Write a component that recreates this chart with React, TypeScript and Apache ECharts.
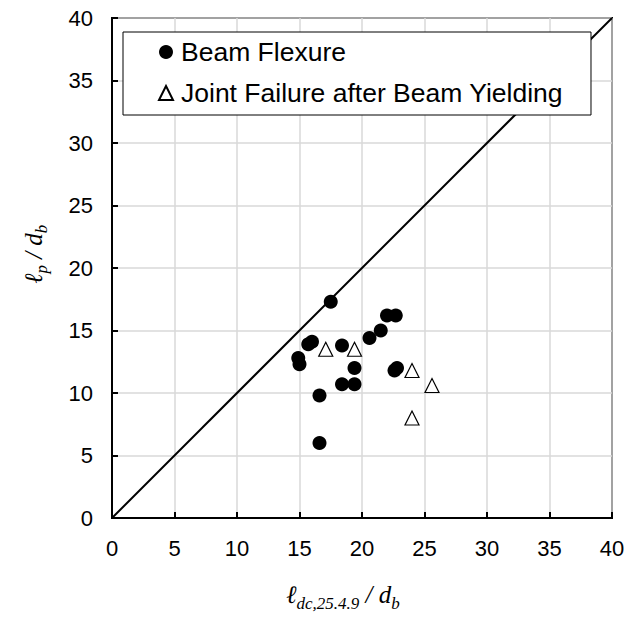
import React, { useEffect, useRef } from "react";
import * as echarts from "echarts";

const beamFlexure: [number, number][] = [
  [17.5, 17.3], [22.0, 16.2], [22.7, 16.2], [21.5, 15.0], [20.6, 14.4],
  [16.0, 14.1], [15.7, 13.9], [18.4, 13.8], [14.9, 12.8], [15.0, 12.3],
  [19.4, 12.0], [22.8, 12.0], [22.6, 11.8], [18.4, 10.7], [19.4, 10.7],
  [16.6, 9.8], [16.6, 6.0],
];
const jointFailure: [number, number][] = [
  [17.1, 13.5], [19.4, 13.5], [24.0, 11.8], [25.6, 10.6], [24.0, 8.0],
];
const equalityLine: [number, number][] = [[0, 0], [40, 40]];
const seriesNames = ["Beam Flexure", "Joint Failure after Beam Yielding"];

export default function App() {
  const ref = useRef<HTMLDivElement>(null);
  useEffect(() => {
    if (!ref.current) return;
    const chart = echarts.init(ref.current, null, { renderer: "svg" });
    const serif = "'Liberation Serif', 'DejaVu Serif', serif";
    const sans = "'Liberation Sans', Arial, sans-serif";
    const titleRich = {
      l: { fontSize: 25, fontFamily: serif, fontStyle: "italic", color: "#222", lineHeight: 34, verticalAlign: "middle" },
      s: { fontSize: 17, fontFamily: serif, fontStyle: "italic", color: "#222", lineHeight: 16, verticalAlign: "bottom" },
    };
    const axisCommon = {
      type: "value", min: 0, max: 40, interval: 5,
      axisLine: { show: true, onZero: false, lineStyle: { color: "#000", width: 2 } },
      axisTick: { show: true, inside: true, length: 6, lineStyle: { color: "#000", width: 2 } },
      axisLabel: { fontSize: 22, fontFamily: sans, color: "#000" },
      splitLine: { show: true, lineStyle: { color: "#d9d9d9", width: 1.5 } },
    };
    chart.setOption({
      animation: false,
      backgroundColor: "#fff",
      grid: { left: 112, top: 18, width: 500, height: 500, show: true, borderColor: "#000", borderWidth: 2, backgroundColor: "transparent" },
      xAxis: { ...axisCommon, axisLabel: { ...axisCommon.axisLabel, margin: 19 } },
      yAxis: { ...axisCommon, axisLabel: { ...axisCommon.axisLabel, margin: 19 } },
      legend: {
        data: [
          { name: seriesNames[0], icon: "circle" },
          { name: seriesNames[1], icon: "triangle" },
        ],
        orient: "vertical",
        left: 123, top: 32,
        backgroundColor: "#fff",
        borderColor: "#000", borderWidth: 1,
        padding: [6, 28, 8, 35],
        itemGap: 13,
        itemWidth: 14, itemHeight: 14,
        textStyle: { fontSize: 26.5, fontFamily: sans, color: "#000", lineHeight: 28, padding: [0, 0, 0, 3] },
      },
      graphic: [
        {
          type: "text", left: 286, top: 582,
          style: { text: "{l|ℓ}{s|dc,25.4.9}{l| / d}{s|b}", rich: titleRich },
        },
        {
          type: "text", x: 16, y: 284, rotation: Math.PI / 2,
          style: { text: "{l|ℓ}{s|p}{l| / d}{s|b}", rich: titleRich },
        },
      ],
      series: [
        {
          type: "line", data: equalityLine, showSymbol: false, symbol: "none",
          lineStyle: { color: "#000", width: 2 }, silent: true, z: 1,
        },
        {
          name: seriesNames[0], type: "scatter", data: beamFlexure,
          symbol: "circle", symbolSize: 14,
          itemStyle: { color: "#000", opacity: 1 }, z: 3,
        },
        {
          name: seriesNames[1], type: "scatter", data: jointFailure,
          symbol: "triangle", symbolSize: 14,
          itemStyle: { color: "#fff", borderColor: "#000", borderWidth: 1.2, opacity: 1 }, z: 3,
        },
      ],
    });
    return () => chart.dispose();
  }, []);
  return <div ref={ref} style={{ width: 634, height: 619, position: "absolute", left: 0, top: 0 }} />;
}
